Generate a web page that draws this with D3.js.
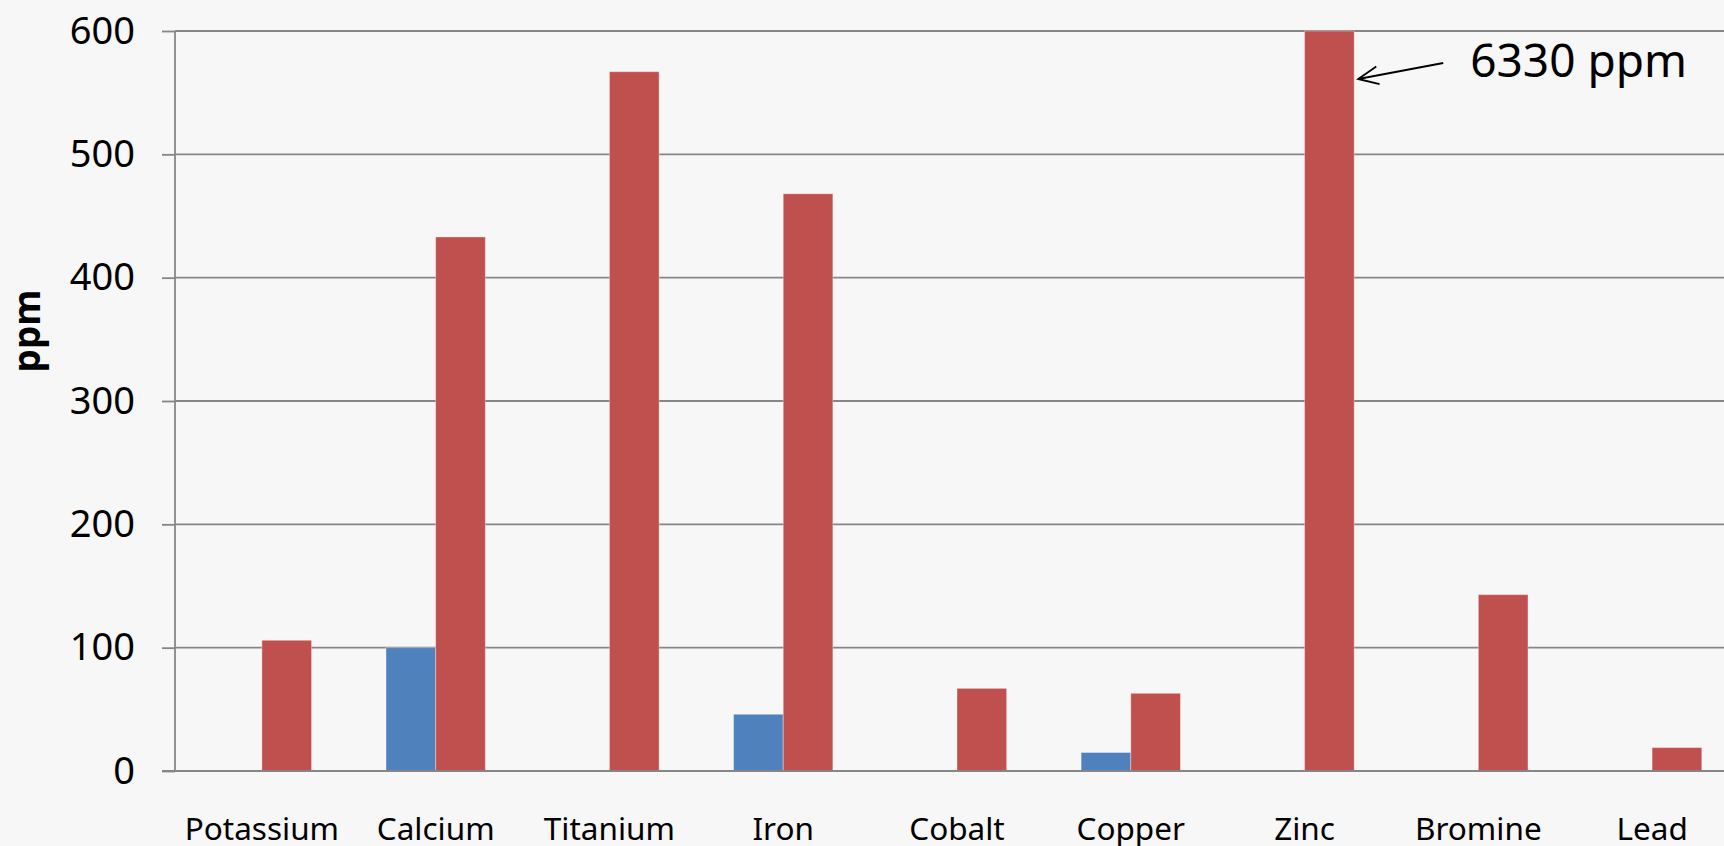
<!DOCTYPE html>
<html>
<head>
<meta charset="utf-8">
<script src="https://cdn.jsdelivr.net/npm/d3@7"></script>
<style>
  html, body { margin: 0; padding: 0; background: #f7f7f7; overflow: hidden; }
  svg { display: block; }
  text { font-family: "Noto Sans", "Open Sans", sans-serif; fill: #000; }
</style>
</head>
<body>
<svg id="chart" width="1724" height="846"></svg>
<script>
// Element concentrations (ppm), two measurement series per element
const categories = ["Potassium", "Calcium", "Titanium", "Iron", "Cobalt", "Copper", "Zinc", "Bromine", "Lead"];
const seriesNames = ["blue", "red"];
const blueValues = [0, 100, 0, 46, 0, 15, 0, 0, 0];
const redValues  = [106, 433, 567, 468, 67, 63, 6330, 143, 19];
const yTicks = [0, 100, 200, 300, 400, 500, 600];
const annotationCategory = "Zinc";
const annotationText = "6330 ppm";

const colors = { blue: "#4f81bd", red: "#c0504d" };

const W = 1724, H = 846;
const plot = { left: 175, right: 1739, top: 31, bottom: 771 };
const gridColor = "#868686";

const svg = d3.select("#chart");
svg.append("rect").attr("width", W).attr("height", H).attr("fill", "#f7f7f7");

const x = d3.scaleBand().domain(categories).range([plot.left, plot.right]).padding(0);
const xInner = d3.scaleBand().domain(seriesNames).range([0, x.bandwidth()])
  .paddingInner(0).paddingOuter(0.75);
const y = d3.scaleLinear().domain([0, 600]).range([plot.bottom, plot.top]).clamp(true);

// Horizontal gridlines
svg.append("g").selectAll("line").data(yTicks.filter(d => d > 0)).join("line")
  .attr("x1", plot.left).attr("x2", W)
  .attr("y1", d => y(d)).attr("y2", d => y(d))
  .attr("stroke", gridColor).attr("stroke-width", 1.8);

// Bars
const rows = categories.map((c, i) => ({ cat: c, values: [
  { key: "blue", value: blueValues[i] },
  { key: "red", value: redValues[i] }
]}));

const groups = svg.append("g").selectAll("g").data(rows).join("g")
  .attr("transform", d => `translate(${x(d.cat)},0)`);

groups.selectAll("rect").data(d => d.values.filter(v => v.value > 0)).join("rect")
  .attr("x", d => xInner(d.key))
  .attr("width", xInner.bandwidth())
  .attr("y", d => y(d.value))
  .attr("height", d => y(0) - y(d.value))
  .attr("fill", d => colors[d.key])
  .attr("stroke", "rgba(255,255,255,0.35)")
  .attr("stroke-width", 1);

// Y axis with outward ticks
const yAxis = d3.axisLeft(y).tickValues(yTicks).tickSize(13).tickPadding(27);
const gy = svg.append("g").attr("transform", `translate(${plot.left},0)`).call(yAxis);
gy.select(".domain").remove();
gy.selectAll(".tick line").attr("stroke", gridColor).attr("stroke-width", 1.8);
gy.selectAll(".tick text")
  .style("font-family", '"Noto Sans", "Open Sans", sans-serif')
  .style("font-size", "38px").attr("fill", "#000");

// Axis lines
svg.append("line")
  .attr("x1", plot.left).attr("x2", plot.left)
  .attr("y1", plot.top).attr("y2", plot.bottom)
  .attr("stroke", gridColor).attr("stroke-width", 1.8);
svg.append("line")
  .attr("x1", plot.left - 13).attr("x2", W)
  .attr("y1", plot.bottom).attr("y2", plot.bottom)
  .attr("stroke", gridColor).attr("stroke-width", 2.2);

// Category labels
svg.append("g").selectAll("text").data(categories).join("text")
  .attr("x", d => x(d) + x.bandwidth() / 2)
  .attr("y", 840)
  .attr("text-anchor", "middle")
  .style("font-size", "31.5px")
  .text(d => d);

// Y axis title
svg.append("text")
  .attr("transform", "translate(40,331) rotate(-90)")
  .attr("text-anchor", "middle")
  .style("font-size", "37px")
  .style("font-weight", "bold")
  .text("ppm");

// Callout for the off-scale bar
const barRight = x(annotationCategory) + xInner("red") + xInner.bandwidth();
const tip = { x: barRight + 4, y: 79 };
const tail = { x: tip.x + 85, y: 63 };
const ang = Math.atan2(tail.y - tip.y, tail.x - tip.x);
const headLen = 22, headSpread = 0.42;
svg.append("line")
  .attr("x1", tail.x).attr("y1", tail.y).attr("x2", tip.x).attr("y2", tip.y)
  .attr("stroke", "#000").attr("stroke-width", 1.8);
svg.append("path")
  .attr("d", d3.line()([
    [tip.x + headLen * Math.cos(ang - headSpread), tip.y + headLen * Math.sin(ang - headSpread)],
    [tip.x, tip.y],
    [tip.x + headLen * Math.cos(ang + headSpread), tip.y + headLen * Math.sin(ang + headSpread)]
  ]))
  .attr("fill", "none").attr("stroke", "#000").attr("stroke-width", 1.8);
svg.append("text")
  .attr("x", tip.x + 112).attr("y", 77)
  .style("font-size", "46px")
  .text(annotationText);
</script>
</body>
</html>
